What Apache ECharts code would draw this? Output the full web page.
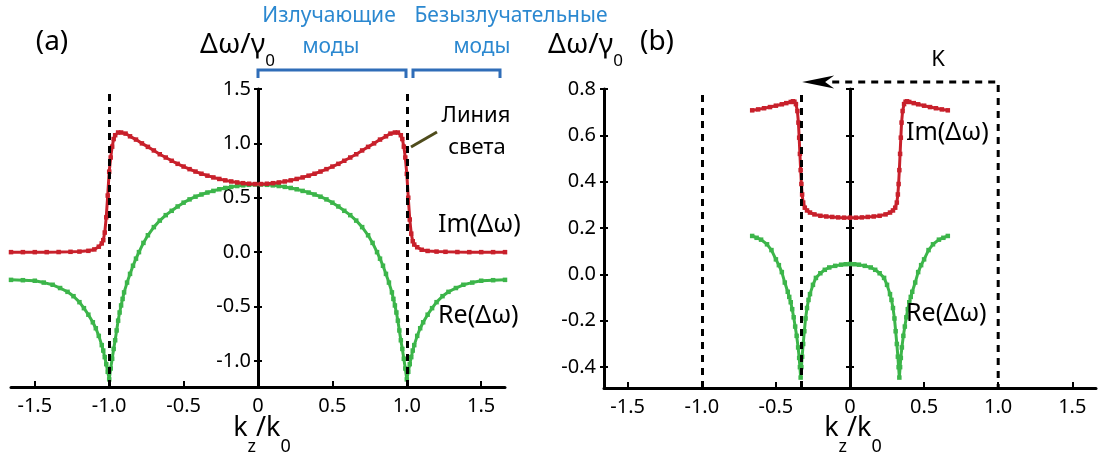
<!DOCTYPE html>
<html><head><meta charset="utf-8">
<script src="https://cdn.jsdelivr.net/npm/echarts@6/dist/echarts.min.js"></script>
<style>html,body{margin:0;padding:0;background:#fff}#c{width:1101px;height:458px}</style>
</head><body><div id="c"></div>
<script>
// ---------- data ----------
const kImA = [-1.66,-1.58,-1.50,-1.42,-1.34,-1.26,-1.20,-1.14,-1.10,-1.07,-1.05,-1.04,-1.03,-1.02,-1.01,-1.00,-0.99,-0.98,-0.97,-0.96,-0.94,-0.92,-0.89,-0.86,-0.82,-0.78,-0.74,-0.70,-0.66,-0.62,-0.58,-0.54,-0.50,-0.46,-0.42,-0.38,-0.34,-0.30,-0.26,-0.22,-0.18,-0.14,-0.10,-0.06,-0.02,
  0.02,0.06,0.10,0.14,0.18,0.22,0.26,0.30,0.34,0.38,0.42,0.46,0.50,0.54,0.58,0.62,0.66,0.70,0.74,0.78,0.82,0.86,0.89,0.92,0.94,0.96,0.97,0.98,0.99,1.00,1.01,1.02,1.03,1.04,1.05,1.07,1.10,1.14,1.20,1.26,1.34,1.42,1.50,1.58,1.66];
const imA = [0,0,0,0,0.001,0.003,0.005,0.012,0.025,0.05,0.08,0.11,0.18,0.32,0.52,0.74,0.87,0.97,1.04,1.075,1.10,1.10,1.09,1.065,1.035,1.0,0.968,0.935,0.90,0.87,0.84,0.812,0.787,0.763,0.741,0.721,0.703,0.687,0.673,0.660,0.650,0.641,0.634,0.629,0.626,
  0.626,0.629,0.634,0.641,0.650,0.660,0.673,0.687,0.703,0.721,0.741,0.763,0.787,0.812,0.84,0.87,0.90,0.935,0.968,1.0,1.035,1.065,1.09,1.10,1.10,1.075,1.04,0.97,0.87,0.72,0.50,0.30,0.17,0.10,0.07,0.045,0.022,0.011,0.005,0.003,0.001,0,0,0,0];
const kReA = [-1.66,-1.58,-1.50,-1.44,-1.38,-1.33,-1.28,-1.24,-1.20,-1.17,-1.14,-1.11,-1.09,-1.07,-1.05,-1.04,-1.03,-1.02,-1.01,-1.00,-0.99,-0.98,-0.97,-0.96,-0.95,-0.94,-0.93,-0.92,-0.91,-0.90,-0.88,-0.86,-0.84,-0.82,-0.80,-0.77,-0.74,-0.70,-0.66,-0.62,-0.58,-0.54,-0.50,-0.46,-0.42,-0.38,-0.34,-0.30,-0.26,-0.22,-0.18,-0.14,-0.10,-0.06,-0.02,
  0.02,0.06,0.10,0.14,0.18,0.22,0.26,0.30,0.34,0.38,0.42,0.46,0.50,0.54,0.58,0.62,0.66,0.70,0.74,0.77,0.80,0.82,0.84,0.86,0.88,0.90,0.91,0.92,0.93,0.94,0.95,0.96,0.97,0.98,0.99,1.00,1.01,1.02,1.03,1.04,1.05,1.07,1.09,1.11,1.14,1.17,1.20,1.24,1.28,1.33,1.38,1.44,1.50,1.58,1.66];
const reA = [-0.255,-0.258,-0.263,-0.28,-0.30,-0.33,-0.365,-0.405,-0.46,-0.515,-0.575,-0.645,-0.70,-0.77,-0.855,-0.905,-0.965,-1.03,-1.10,-1.17,-1.07,-0.98,-0.89,-0.81,-0.72,-0.63,-0.555,-0.49,-0.43,-0.37,-0.28,-0.20,-0.125,-0.06,0.0,0.085,0.155,0.23,0.29,0.34,0.38,0.42,0.455,0.485,0.51,0.53,0.548,0.563,0.578,0.59,0.60,0.608,0.614,0.619,0.622,
  0.622,0.619,0.614,0.608,0.60,0.59,0.578,0.563,0.548,0.53,0.51,0.485,0.455,0.42,0.38,0.34,0.29,0.23,0.155,0.085,0.0,-0.06,-0.125,-0.20,-0.28,-0.37,-0.43,-0.49,-0.555,-0.63,-0.72,-0.81,-0.89,-0.98,-1.07,-1.17,-1.10,-1.03,-0.965,-0.905,-0.855,-0.77,-0.70,-0.645,-0.575,-0.515,-0.46,-0.405,-0.365,-0.33,-0.30,-0.28,-0.263,-0.258,-0.255];

const kImB = [-0.66,-0.62,-0.58,-0.54,-0.50,-0.46,-0.43,-0.40,-0.385,-0.375,-0.365,-0.355,-0.348,-0.343,-0.338,-0.333,-0.328,-0.323,-0.316,-0.305,-0.29,-0.27,-0.24,-0.20,-0.16,-0.12,-0.08,-0.04,0,
  0.04,0.08,0.12,0.16,0.20,0.24,0.27,0.29,0.305,0.316,0.323,0.328,0.333,0.338,0.343,0.348,0.355,0.365,0.375,0.385,0.40,0.43,0.46,0.50,0.54,0.58,0.62,0.66];
const imB = [0.708,0.712,0.717,0.722,0.728,0.734,0.739,0.744,0.747,0.745,0.735,0.705,0.655,0.59,0.52,0.45,0.39,0.345,0.31,0.288,0.276,0.267,0.259,0.253,0.25,0.248,0.246,0.245,0.245,
  0.245,0.246,0.248,0.25,0.253,0.259,0.267,0.276,0.288,0.31,0.345,0.39,0.45,0.52,0.59,0.655,0.705,0.735,0.745,0.747,0.744,0.739,0.734,0.728,0.722,0.717,0.712,0.708];
const kReB = [-0.66,-0.63,-0.60,-0.56,-0.53,-0.50,-0.48,-0.46,-0.44,-0.42,-0.41,-0.40,-0.39,-0.38,-0.37,-0.36,-0.35,-0.343,-0.338,-0.333,-0.328,-0.323,-0.316,-0.308,-0.30,-0.29,-0.28,-0.27,-0.25,-0.23,-0.20,-0.17,-0.14,-0.10,-0.06,-0.03,0,
  0.03,0.06,0.10,0.14,0.17,0.20,0.23,0.25,0.27,0.28,0.29,0.30,0.308,0.316,0.323,0.328,0.333,0.338,0.343,0.35,0.36,0.37,0.38,0.39,0.40,0.41,0.42,0.44,0.46,0.48,0.50,0.53,0.56,0.60,0.63,0.66];
const reB = [0.166,0.158,0.15,0.13,0.105,0.065,0.04,0.01,-0.035,-0.075,-0.097,-0.12,-0.15,-0.185,-0.225,-0.265,-0.315,-0.36,-0.40,-0.445,-0.40,-0.355,-0.30,-0.245,-0.19,-0.145,-0.11,-0.085,-0.045,-0.015,0.005,0.02,0.03,0.037,0.042,0.044,0.045,
  0.044,0.042,0.037,0.03,0.02,0.005,-0.015,-0.045,-0.085,-0.11,-0.145,-0.19,-0.245,-0.30,-0.355,-0.40,-0.445,-0.40,-0.36,-0.315,-0.265,-0.225,-0.185,-0.15,-0.12,-0.097,-0.075,-0.035,0.01,0.04,0.065,0.105,0.13,0.15,0.158,0.166];

const xTicks = [-1.5,-1,-0.5,0,0.5,1,1.5];
const xTickLabels = ['-1.5','-1.0','-0.5','0','0.5','1.0','1.5'];
const yTicksA = [-1,-0.5,0,0.5,1,1.5];
const yTicksB = [-0.4,-0.2,0,0.2,0.4,0.6,0.8];
const lightLinesA = [-1, 1];          // light line k = ±k0
const zoneLinesB = [-1, -0.333];      // dashed verticals in (b)
const kPathB = [-0.12, 1, 1];         // K shift path (dashed) in (b)
const vPathB = [0.83, 0.83, -0.49];
const kArrowB = [-0.215];
const vArrowB = [0.83];

// ---------- styling ----------
const RED = '#c8202b', GREEN = '#3cb54a', BLUE_T = '#2b88d0', BLUE_B = '#2f6db8';
const FONT = '"Noto Sans", "DejaVu Sans", sans-serif';
const zip = (a, b) => a.map((v, i) => [v, b[i]]);

function xAxisCfg(grid) {
  return {
    gridIndex: grid, type: 'value', min: -1.66, max: 1.66,
    axisLine: { onZero: false, lineStyle: { color: '#000', width: 3 } },
    axisTick: { inside: true, length: 6, customValues: xTicks, lineStyle: { color: '#000', width: 2 } },
    axisLabel: { customValues: xTicks, margin: 9, color: '#000', fontSize: 20, fontFamily: FONT,
      formatter: v => xTickLabels[xTicks.findIndex(t => Math.abs(t - v) < 1e-6)] },
    splitLine: { show: false }
  };
}
function hiddenX(grid) {
  return { gridIndex: grid, type: 'value', min: 0, max: 1, show: false };
}
function yAxisCfg(grid, min, max, ticks, opts) {
  return {
    gridIndex: grid, type: 'value', min: min, max: max, position: 'left', show: opts.show !== false,
    axisLine: { show: opts.line, onZero: false, lineStyle: { color: '#000', width: 3 } },
    axisTick: { show: true, inside: opts.inside, length: 4, customValues: ticks, lineStyle: { color: '#000', width: 2 } },
    axisLabel: { show: opts.labels, customValues: ticks, margin: opts.margin || 7, color: '#000', fontSize: 20, fontFamily: FONT,
      formatter: v => v.toFixed(1) },
    splitLine: { show: false }
  };
}
function curve(xi, yi, k, v, color, z) {
  return { type: 'line', xAxisIndex: xi, yAxisIndex: yi, data: zip(k, v), symbol: 'rect', symbolSize: 4.5,
    showSymbol: true, showAllSymbol: true, lineStyle: { color: color, width: 3 }, itemStyle: { color: color },
    z: z, silent: true, animation: false };
}
function dashLines(xi, yi, vals) {
  return { type: 'line', xAxisIndex: xi, yAxisIndex: yi, data: [], z: 10, silent: true,
    markLine: { silent: true, symbol: 'none', animation: false, label: { show: false },
      lineStyle: { color: '#000', width: 3, type: [7, 6] },
      data: vals.map(v => ({ xAxis: v })) } };
}
function t(x, y, text, size, color, align) {
  return { type: 'text', x: x, y: y, silent: true, z: 50,
    style: { text: text, font: size + 'px ' + FONT, fontSize: size, fontFamily: FONT, fill: color || '#000',
      align: align || 'left', textAlign: align || 'left', verticalAlign: 'middle', textVerticalAlign: 'middle' } };
}
function sub(x, y, main, s, mainSize, subSize, lh, align) {
  return { type: 'text', x: x, y: y, silent: true, z: 50,
    style: { text: main.map((m, i) => '{m|' + m + '}{s|' + s[i] + '}').join(''),
      align: align || 'left', textAlign: align || 'left', verticalAlign: 'middle', textVerticalAlign: 'middle', fill: '#000',
      rich: { m: { fontSize: mainSize, fontFamily: FONT, lineHeight: lh, fill: '#000', color: '#000' },
              s: { fontSize: subSize, fontFamily: FONT, lineHeight: subSize, verticalAlign: 'bottom', fill: '#000', color: '#000' } } } };
}

const chart = echarts.init(document.getElementById('c'), null, { renderer: 'canvas' });
chart.setOption({
  animation: false,
  backgroundColor: '#fff',
  grid: [
    { left: 11, right: 596, top: 89, bottom: 71, outerBoundsMode: 'none', containLabel: false },   // (a) plot
    { left: 604, right: 5, top: 89, bottom: 70, outerBoundsMode: 'none', containLabel: false },   // (b) plot
    { left: 258, right: 842, top: 89, bottom: 71, outerBoundsMode: 'none', containLabel: false },  // (a) axis at k=0
    { left: 850, right: 250, top: 89, bottom: 70, outerBoundsMode: 'none', containLabel: false }   // (b) line at k=0
  ],
  xAxis: [xAxisCfg(0), xAxisCfg(1), hiddenX(2), hiddenX(3)],
  yAxis: [
    yAxisCfg(0, -1.24, 1.5, yTicksA, { show: false, line: false, inside: false, labels: false }),
    yAxisCfg(1, -0.49, 0.8, yTicksB, { line: true, inside: false, labels: true, margin: 8 }),
    yAxisCfg(1, -0.49, 0.8, yTicksB, { line: false, inside: true, labels: false }),
    yAxisCfg(2, -1.24, 1.5, yTicksA, { line: true, inside: false, labels: true, margin: 7 }),
    yAxisCfg(2, -1.24, 1.5, yTicksA, { line: false, inside: true, labels: false }),
    yAxisCfg(3, -0.49, 0.8, yTicksB, { line: true, inside: false, labels: false }),
    yAxisCfg(3, -0.49, 0.8, yTicksB, { line: false, inside: true, labels: false })
  ],
  series: [
    curve(0, 0, kReA, reA, GREEN, 3),
    curve(0, 0, kImA, imA, RED, 4),
    dashLines(0, 0, lightLinesA),
    curve(1, 1, kReB, reB, GREEN, 3),
    curve(1, 1, kImB, imB, RED, 4),
    dashLines(1, 1, zoneLinesB),
    { type: 'line', xAxisIndex: 1, yAxisIndex: 1, data: zip(kPathB, vPathB), symbol: 'none', clip: false, silent: true, z: 10,
      lineStyle: { color: '#000', width: 3, type: [7, 6] } },
    { type: 'scatter', xAxisIndex: 1, yAxisIndex: 1, data: zip(kArrowB, vArrowB), clip: false, silent: true, z: 11,
      symbol: 'path://M0,6 L32,0 L23,6 L32,12 Z', symbolSize: [32, 13], itemStyle: { color: '#000', opacity: 1 } }
  ],
  graphic: [
    t(52, 42, '(a)', 28, '#000', 'center'),
    t(657, 42, '(b)', 28, '#000', 'center'),
    sub(200, 45, ['Δω/γ'], ['0'], 28, 17, 50),
    sub(548, 45, ['Δω/γ'], ['0'], 28, 17, 50),
    sub(262, 428, ['k', '/k'], ['z', '0'], 27, 18, 56, 'center'),
    sub(853, 428, ['k', '/k'], ['z', '0'], 27, 18, 56, 'center'),
    t(329, 16, 'Излучающие', 21, BLUE_T, 'center'),
    t(331, 47, 'моды', 21, BLUE_T, 'center'),
    t(511, 16, 'Безызлучательные', 21, BLUE_T, 'center'),
    t(482, 47, 'моды', 21, BLUE_T, 'center'),
    { type: 'polyline', silent: true, z: 50, shape: { points: [[258, 78], [258, 70], [406, 70], [406, 78]] },
      style: { stroke: BLUE_B, lineWidth: 3, fill: null } },
    { type: 'polyline', silent: true, z: 50, shape: { points: [[413, 78], [413, 70], [500, 70], [500, 78]] },
      style: { stroke: BLUE_B, lineWidth: 3, fill: null } },
    t(476, 116, 'Линия', 22, '#000', 'center'),
    t(477, 148, 'света', 22, '#000', 'center'),
    { type: 'line', silent: true, z: 50, shape: { x1: 411, y1: 147, x2: 437, y2: 132 },
      style: { stroke: '#4f4c1c', lineWidth: 3 } },
    t(438, 225, 'Im(Δω)', 25),
    t(438, 316, 'Re(Δω)', 25),
    t(906, 133, 'Im(Δω)', 25),
    t(906, 314, 'Re(Δω)', 25),
    t(938, 60, 'K', 22, '#000', 'center')
  ]
});
</script>
</body></html>
